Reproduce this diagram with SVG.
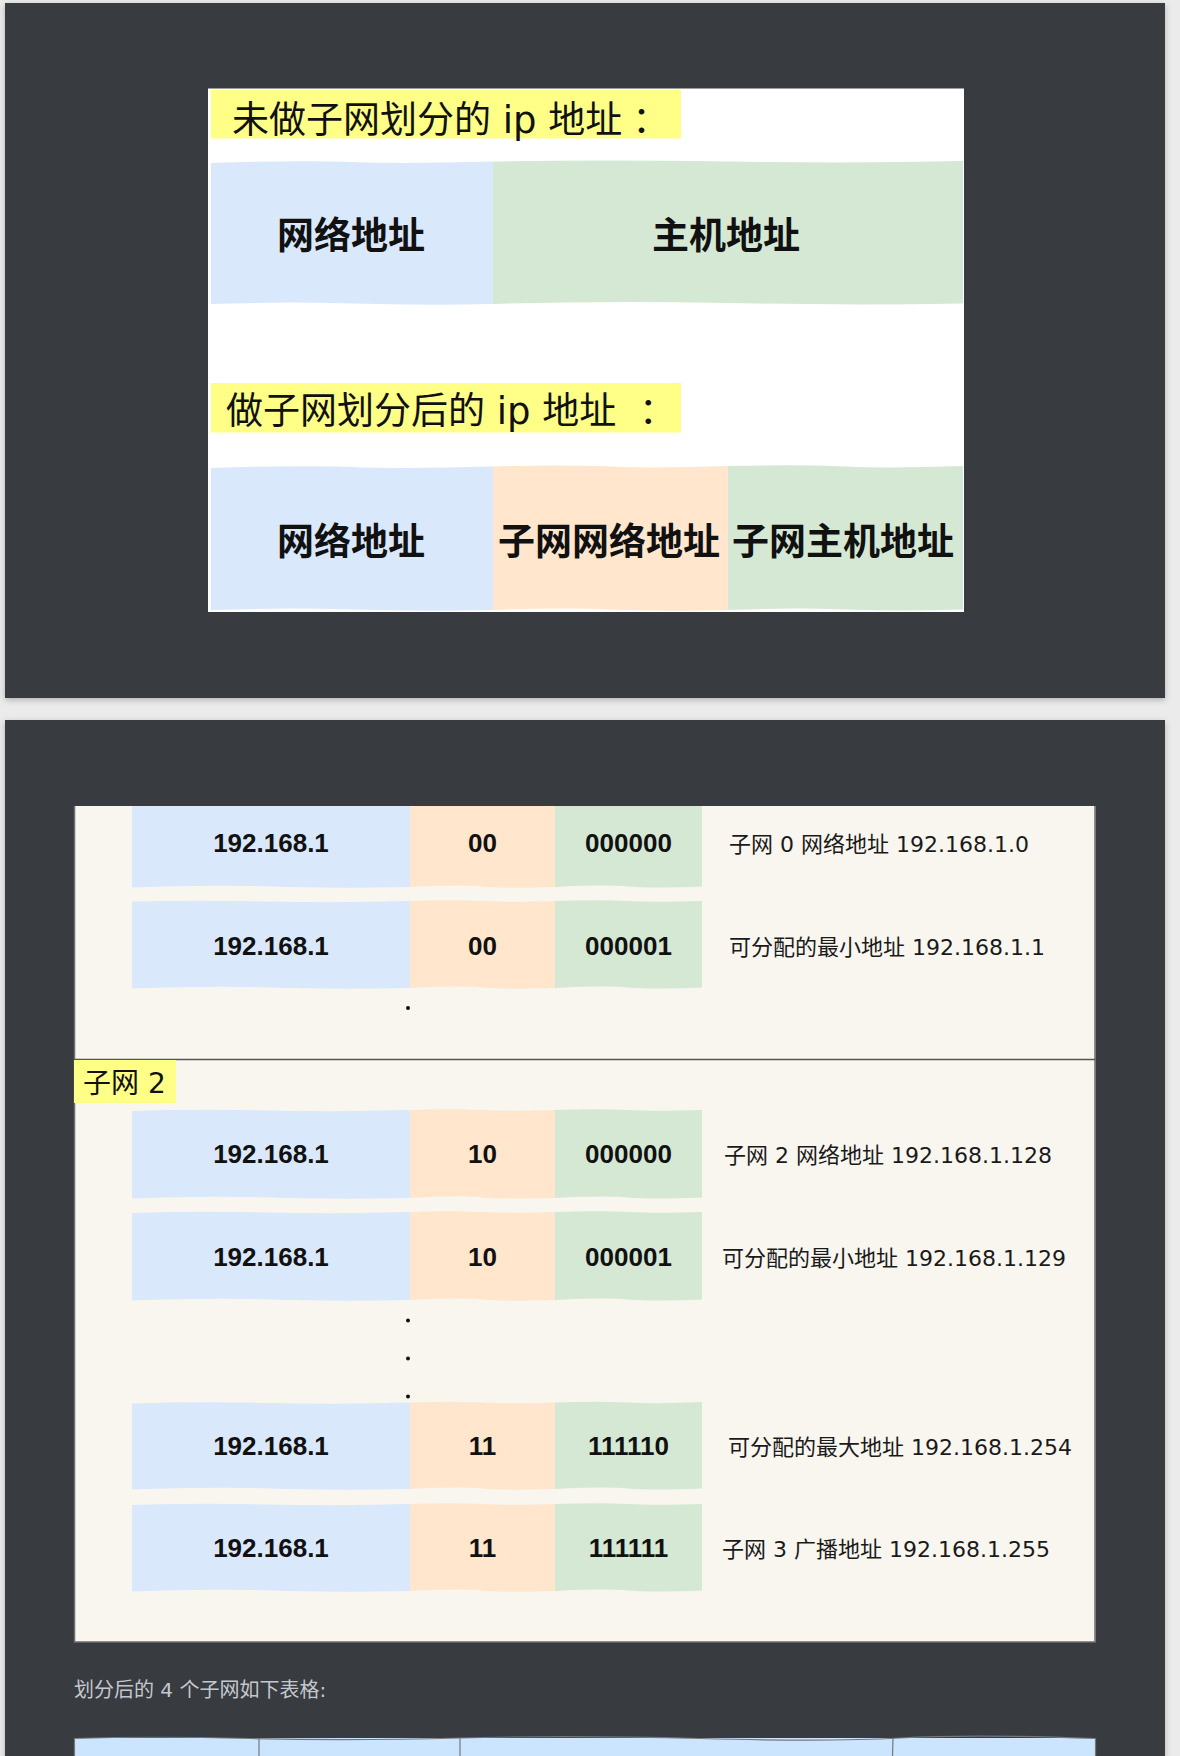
<svg xmlns="http://www.w3.org/2000/svg" width="1180" height="1756" viewBox="0 0 1180 1756">
  <defs>
    <filter id="shadow" x="-5%" y="-5%" width="110%" height="110%">
      <feDropShadow dx="0" dy="2" stdDeviation="3" flood-color="#000" flood-opacity="0.25"/>
    </filter>
    <style>
      .panel { fill: #373b40; }
      .blue { fill: #dae8fc; }
      .orange { fill: #ffe6cc; }
      .green { fill: #d5e8d4; }
      .yellow { fill: #ffff88; }
      .label { font-family: "DejaVu Sans", "Noto Sans CJK SC", sans-serif; font-size: 37px; fill: #111; }
      .big { font-family: "Noto Sans CJK SC", sans-serif; font-size: 37px; font-weight: bold; fill: #111; text-anchor: middle; }
      .num { font-family: "Liberation Sans", "DejaVu Sans", sans-serif; font-size: 26px; font-weight: bold; fill: #111; text-anchor: middle; }
      .desc { font-family: "DejaVu Sans", "Noto Sans CJK SC", sans-serif; font-size: 22px; fill: #1a1a1a; }
      .sub { font-family: "DejaVu Sans", "Noto Sans CJK SC", sans-serif; font-size: 28px; fill: #111; }
      .note { font-family: "DejaVu Sans", "Noto Sans CJK SC", sans-serif; font-size: 20px; fill: #c3c8ce; }
      .dot { fill: #111; }
      .border { stroke: #6e6e6e; stroke-width: 1.5; fill: none; }
    </style>
  </defs>

  <rect x="0" y="0" width="1180" height="1756" fill="#ebebeb"/>

  <!-- Panel 1 -->
  <g id="panel1">
    <rect class="panel" x="5" y="3" width="1160" height="695" filter="url(#shadow)"/>
    <rect x="208" y="88.5" width="756" height="523.5" fill="#ffffff"/>
  </g>

  <g id="label-before">
    <rect class="yellow" x="211" y="90" width="470" height="48.5"/>
    <text class="label" x="232" y="133">未做子网划分的 ip 地址<tspan dx="10">：</tspan></text>
  </g>

  <g id="before-network">
    <path class="blue" d="M211,163 Q300,160 352,162 T493,161.5 L493,304 Q420,305.5 352,303.5 T211,304 Z"/>
    <text class="big" x="351" y="249">网络地址</text>
  </g>
  <g id="before-host">
    <path class="green" d="M493,161.5 Q600,159.5 728,161.5 T963,161 L963,303.5 Q850,305.5 728,303 T493,304 Z"/>
    <text class="big" x="726" y="249">主机地址</text>
  </g>

  <g id="label-after">
    <rect class="yellow" x="211" y="383" width="470" height="49.5"/>
    <text class="label" x="226" y="424">做子网划分后的 ip 地址 <tspan dx="11">：</tspan></text>
  </g>

  <g id="after-network">
    <path class="blue" d="M211,468 Q300,465 352,467 T493,466.5 L493,610 Q420,611.5 352,609.5 T211,610 Z"/>
    <text class="big" x="351" y="555">网络地址</text>
  </g>
  <g id="after-subnet">
    <path class="orange" d="M493,466.5 Q560,464.5 610,466.5 T728,466 L728,610 Q660,611.5 610,609.5 T493,610 Z"/>
    <text class="big" x="609" y="555">子网网络地址</text>
  </g>
  <g id="after-host">
    <path class="green" d="M728,466 Q800,464.5 845,466.5 T963,466 L963,609.5 Q900,611.5 845,609.5 T728,610 Z"/>
    <text class="big" x="843" y="555">子网主机地址</text>
  </g>

  <!-- Panel 2 -->
  <g id="panel2">
    <rect class="panel" x="5" y="720" width="1160" height="1045" filter="url(#shadow)"/>
    <rect x="74" y="806" width="1021.5" height="836" fill="#f8f6ef"/>
    <path class="border" d="M74.5,806 L74.5,1642 L1095,1642 L1095,806"/>
    <line x1="74" y1="1059.5" x2="1095.5" y2="1059.5" stroke="#555" stroke-width="1.5"/>
  </g>

  <g id="label-subnet2">
    <rect class="yellow" x="74" y="1060" width="102" height="43"/>
    <text class="sub" x="83" y="1093">子网 2</text>
  </g>

  <!-- Row A -->
  <g id="row-subnet0-network">
    <path class="blue" d="M132,806 L410,806 L410,887 Q330,888.5 270,886.5 T132,887.5 Z"/>
    <path class="orange" d="M410,806 L555,806 L555,887 Q500,888.5 482,886.5 T410,887 Z"/>
    <path class="green" d="M555,806 L702,806 L702,886.5 Q650,888.5 628,886.5 T555,887 Z"/>
    <text class="num" x="271" y="852">192.168.1</text>
    <text class="num" x="482.5" y="852">00</text>
    <text class="num" x="628.5" y="852">000000</text>
    <text class="desc" x="729" y="852">子网 0 网络地址 192.168.1.0</text>
  </g>

  <!-- Row B -->
  <g id="row-subnet0-min">
    <path class="blue" d="M132,901.5 Q200,900 270,901.5 T410,901 L410,988 Q330,989.5 270,987.5 T132,988.5 Z"/>
    <path class="orange" d="M410,901 Q450,899.5 482,901 T555,901 L555,988 Q500,989.5 482,987.5 T410,988 Z"/>
    <path class="green" d="M555,901 Q600,899.5 628,901 T702,901 L702,987.5 Q650,989.5 628,987.5 T555,988 Z"/>
    <text class="num" x="271" y="955">192.168.1</text>
    <text class="num" x="482.5" y="955">00</text>
    <text class="num" x="628.5" y="955">000001</text>
    <text class="desc" x="729" y="955">可分配的最小地址 192.168.1.1</text>
  </g>

  <circle class="dot" cx="408" cy="1008" r="2"/>

  <!-- Row C -->
  <g id="row-subnet2-network">
    <path class="blue" d="M132,1111 Q200,1109 270,1110.5 T410,1110 L410,1198 Q330,1199.5 270,1197.5 T132,1198.5 Z"/>
    <path class="orange" d="M410,1110 Q450,1108.5 482,1110 T555,1110 L555,1198 Q500,1199.5 482,1197.5 T410,1198 Z"/>
    <path class="green" d="M555,1110 Q600,1108.5 628,1110 T702,1110 L702,1197.5 Q650,1199.5 628,1197.5 T555,1198 Z"/>
    <text class="num" x="271" y="1163">192.168.1</text>
    <text class="num" x="482.5" y="1163">10</text>
    <text class="num" x="628.5" y="1163">000000</text>
    <text class="desc" x="724" y="1163">子网 2 网络地址 192.168.1.128</text>
  </g>

  <!-- Row D -->
  <g id="row-subnet2-min">
    <path class="blue" d="M132,1213 Q200,1211 270,1212.5 T410,1212 L410,1300 Q330,1301.5 270,1299.5 T132,1300.5 Z"/>
    <path class="orange" d="M410,1212 Q450,1210.5 482,1212 T555,1212 L555,1300 Q500,1301.5 482,1299.5 T410,1300 Z"/>
    <path class="green" d="M555,1212 Q600,1210.5 628,1212 T702,1212 L702,1299.5 Q650,1301.5 628,1299.5 T555,1300 Z"/>
    <text class="num" x="271" y="1266">192.168.1</text>
    <text class="num" x="482.5" y="1266">10</text>
    <text class="num" x="628.5" y="1266">000001</text>
    <text class="desc" x="722" y="1266">可分配的最小地址 192.168.1.129</text>
  </g>

  <circle class="dot" cx="408" cy="1320.5" r="2"/>
  <circle class="dot" cx="408" cy="1358.5" r="2"/>
  <circle class="dot" cx="408" cy="1396.5" r="2"/>

  <!-- Row E -->
  <g id="row-subnet3-max">
    <path class="blue" d="M132,1403.5 Q200,1401.5 270,1403 T410,1402.5 L410,1489 Q330,1490.5 270,1488.5 T132,1489.5 Z"/>
    <path class="orange" d="M410,1402.5 Q450,1401 482,1402.5 T555,1402.5 L555,1489 Q500,1490.5 482,1488.5 T410,1489 Z"/>
    <path class="green" d="M555,1402.5 Q600,1401 628,1402.5 T702,1402 L702,1488.5 Q650,1490.5 628,1488.5 T555,1489 Z"/>
    <text class="num" x="271" y="1455">192.168.1</text>
    <text class="num" x="482.5" y="1455">11</text>
    <text class="num" x="628.5" y="1455">111110</text>
    <text class="desc" x="728" y="1455">可分配的最大地址 192.168.1.254</text>
  </g>

  <!-- Row F -->
  <g id="row-subnet3-broadcast">
    <path class="blue" d="M132,1505 Q200,1503 270,1504.5 T410,1504 L410,1591 Q330,1592.5 270,1590.5 T132,1591.5 Z"/>
    <path class="orange" d="M410,1504 Q450,1502.5 482,1504 T555,1504 L555,1591 Q500,1592.5 482,1590.5 T410,1591 Z"/>
    <path class="green" d="M555,1504 Q600,1502.5 628,1504 T702,1504 L702,1590.5 Q650,1592.5 628,1590.5 T555,1591 Z"/>
    <text class="num" x="271" y="1557">192.168.1</text>
    <text class="num" x="482.5" y="1557">11</text>
    <text class="num" x="628.5" y="1557">111111</text>
    <text class="desc" x="722" y="1557">子网 3 广播地址 192.168.1.255</text>
  </g>

  <g id="note">
    <text class="note" x="74" y="1697">划分后的 4 个子网如下表格:</text>
  </g>

  <g id="table-header">
    <rect x="74" y="1738" width="1021.5" height="30" fill="#cce5ff"/>
    <path d="M74,1738.5 Q150,1736 250,1738.5 T460,1738 T700,1738.5 T900,1738 T1095.5,1738.5" fill="none" stroke="#777" stroke-width="1.2"/>
    <line x1="74.5" y1="1738" x2="74.5" y2="1756" stroke="#777" stroke-width="1.2"/>
    <line x1="259" y1="1738" x2="259" y2="1756" stroke="#777" stroke-width="1.2"/>
    <line x1="460" y1="1738" x2="460" y2="1756" stroke="#777" stroke-width="1.2"/>
    <line x1="893" y1="1738" x2="892.5" y2="1756" stroke="#777" stroke-width="1.2"/>
    <line x1="1095.5" y1="1738" x2="1095.5" y2="1756" stroke="#777" stroke-width="1.2"/>
  </g>

  <g id="connectors"/>
</svg>
